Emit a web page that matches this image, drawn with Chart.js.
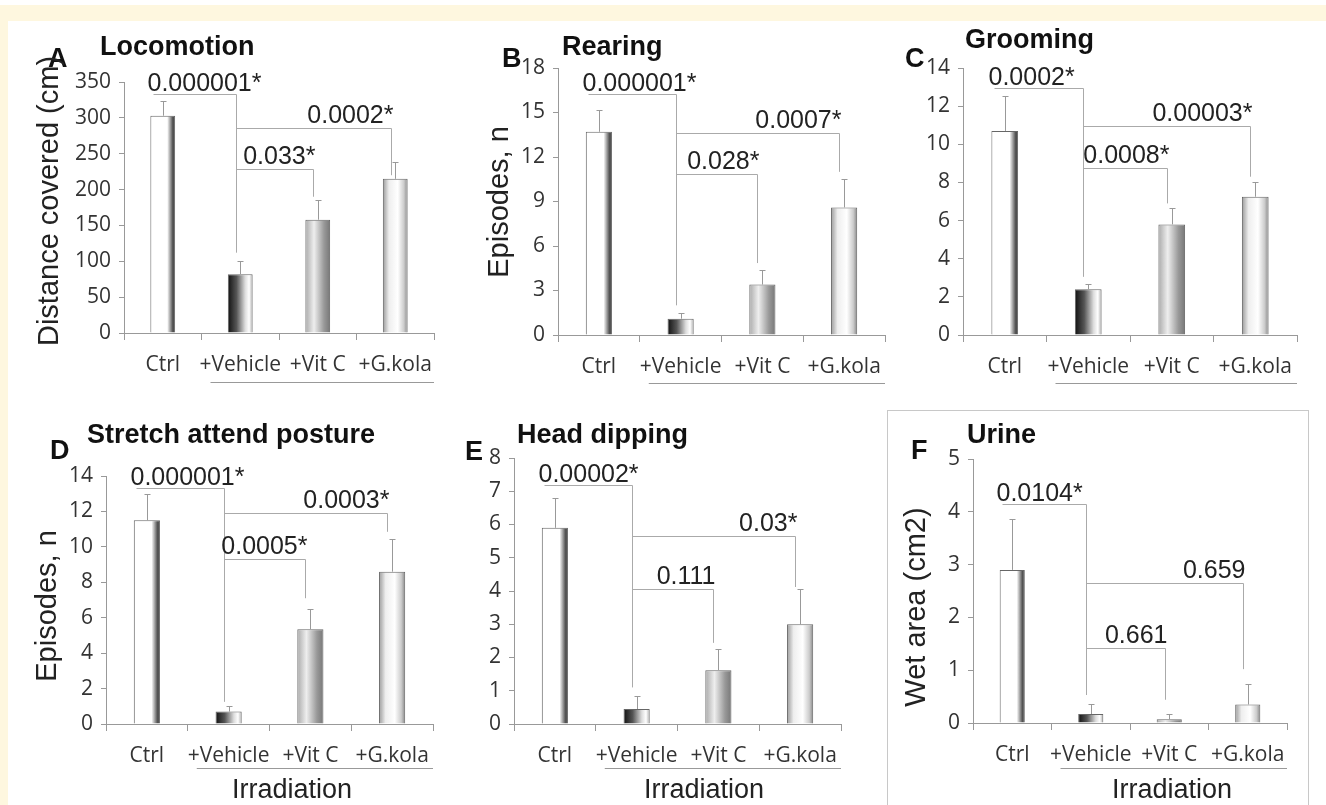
<!DOCTYPE html>
<html>
<head>
<meta charset="utf-8">
<script src="https://cdn.jsdelivr.net/npm/chart.js@4.4.1/dist/chart.umd.min.js"></script>
<style>
body { margin: 0; width: 1326px; height: 805px; background: #fff; position: relative; overflow: hidden; }
.cream { position: absolute; background: #fef7df; }
canvas { position: absolute; }
#boxF { position: absolute; left: 887px; top: 410px; width: 420px; height: 400px; border: 1px solid #c8c8c8; border-bottom: none; }
</style>
</head>
<body>
<div class="cream" style="left:0;top:5px;width:1326px;height:16px"></div>
<div class="cream" style="left:0;top:5px;width:8px;height:800px"></div>
<div id="boxF"></div>
<script>
const categories = ['Ctrl', '+Vehicle', '+Vit C', '+G.kola'];

// means and top of error bar (mean + SD)
const locomotion = [303, 82, 158, 215];
const locomotionErr = [324, 100, 186, 239];
const rearing = [13.7, 1.1, 3.4, 8.6];
const rearingErr = [15.2, 1.5, 4.4, 10.5];
const grooming = [10.7, 2.4, 5.8, 7.25];
const groomingErr = [12.55, 2.65, 6.65, 8.0];
const stretch = [11.5, 0.7, 5.35, 8.6];
const stretchErr = [13.0, 1.0, 6.5, 10.45];
const headDip = [5.9, 0.45, 1.62, 3.0];
const headDipErr = [6.8, 0.85, 2.25, 4.05];
const urine = [2.9, 0.17, 0.07, 0.35];
const urineErr = [3.86, 0.36, 0.17, 0.73];

// p values and their brackets: [from category, to category, bracket level, end of drop]
const pLocomotion = ['0.000001*', '0.0002*', '0.033*'];
const brLocomotion = [[0, 1, 333, 112], [1, 3, 286, 220], [1, 2, 229, 190]];
const pRearing = ['0.000001*', '0.0007*', '0.028*'];
const brRearing = [[0, 1, 16.25, 2.0], [1, 3, 13.6, 11.0], [1, 2, 10.85, 4.85]];
const pGrooming = ['0.0002*', '0.00003*', '0.0008*'];
const brGrooming = [[0, 1, 12.95, 3.05], [1, 3, 10.95, 8.3], [1, 2, 8.75, 6.9]];
const pStretch = ['0.000001*', '0.0003*', '0.0005*'];
const brStretch = [[0, 1, 13.3, 1.25], [1, 3, 11.9, 10.85], [1, 2, 9.3, 7.1]];
const pHeadDip = ['0.00002*', '0.03*', '0.111'];
const brHeadDip = [[0, 1, 7.2, 1.1], [1, 3, 5.65, 4.12], [1, 2, 4.06, 2.44]];
const pUrine = ['0.0104*', '0.659', '0.661'];
const brUrine = [[0, 1, 4.15, 0.53], [1, 3, 2.65, 1.02], [1, 2, 1.42, 0.44]];

// bar shading, one gradient per group
const barStops = [
    [[0, '#ffffff'], [0.68, '#ffffff'], [0.9, '#555555'], [1, '#444444']],
    [[0, '#111111'], [0.35, '#555555'], [0.7, '#dddddd'], [0.86, '#ffffff'], [1, '#aaaaaa']],
    [[0, '#aaaaaa'], [0.35, '#eeeeee'], [0.75, '#999999'], [1, '#777777']],
    [[0, '#999999'], [0.25, '#eeeeee'], [0.6, '#ffffff'], [0.85, '#cccccc'], [1, '#888888']]
];
const barPct = 0.32;

const panels = [
    { letter: 'A', title: 'Locomotion', yTitle: 'Distance covered (cm)', values: locomotion, err: locomotionErr, max: 350, step: 50, p: pLocomotion, br: brLocomotion,
      box: [8, 21, 470, 379], area: [124, 82, 434, 333], letterAt: [48, 67], titleAt: [100, 55], yTitleAt: [50, 201], lineGap: 49 },
    { letter: 'B', title: 'Rearing', yTitle: 'Episodes, n', values: rearing, err: rearingErr, max: 18, step: 3, p: pRearing, br: brRearing,
      box: [440, 21, 460, 379], area: [558, 68, 885, 335], letterAt: [502, 67], titleAt: [562, 55], yTitleAt: [500, 202], lineGap: 48 },
    { letter: 'C', title: 'Grooming', values: grooming, err: groomingErr, max: 14, step: 2, p: pGrooming, br: brGrooming,
      box: [880, 21, 446, 379], area: [963, 68, 1297, 335], letterAt: [905, 67], titleAt: [965, 48], lineGap: 48 },
    { letter: 'D', title: 'Stretch attend posture', yTitle: 'Episodes, n', values: stretch, err: stretchErr, max: 14, step: 2, p: pStretch, br: brStretch,
      box: [8, 400, 470, 405], area: [106, 476, 433, 724], letterAt: [50, 459], titleAt: [87, 443], yTitleAt: [48, 606], lineGap: 44, irrAt: [292, 798] },
    { letter: 'E', title: 'Head dipping', values: headDip, err: headDipErr, max: 8, step: 1, p: pHeadDip, br: brHeadDip,
      box: [440, 400, 440, 405], area: [514, 458, 841, 724], letterAt: [465, 460], titleAt: [517, 443], lineGap: 44, irrAt: [704, 798] },
    { letter: 'F', title: 'Urine', yTitle: 'Wet area (cm2)', values: urine, err: urineErr, max: 5, step: 1, p: pUrine, br: brUrine,
      box: [888, 411, 419, 394], area: [973, 459, 1287, 723], letterAt: [911, 459], titleAt: [967, 443], yTitleAt: [917, 607], lineGap: 45, irrAt: [1172, 798] }
];

const tickFont = { family: 'Open Sans', size: 21 };

function barFill(c) {
    const chart = c.chart;
    if (!chart.chartArea) return '#cccccc';
    const x = chart.scales.x;
    const cx = x.getPixelForValue(c.dataIndex);
    const w = x.width / categories.length * barPct;
    const g = chart.ctx.createLinearGradient(cx - w / 2, 0, cx + w / 2, 0);
    barStops[c.dataIndex].forEach(s => g.addColorStop(s[0], s[1]));
    return g;
}

const px = v => Math.round(v) + 0.5;

const annotate = {
    id: 'annotate',
    afterDatasetsDraw(chart, args, opts) {
        const p = opts.panel;
        const { ctx } = chart;
        const x = chart.scales.x, y = chart.scales.y;
        const ox = p.box[0], oy = p.box[1];
        ctx.save();

        // error bars (upper only)
        ctx.strokeStyle = '#999';
        ctx.lineWidth = 1;
        p.values.forEach((v, i) => {
            const cx = px(x.getPixelForValue(i));
            const y1 = y.getPixelForValue(v);
            const y2 = px(y.getPixelForValue(p.err[i]));
            ctx.beginPath();
            ctx.moveTo(cx, y1); ctx.lineTo(cx, y2);
            ctx.moveTo(cx - 3, y2); ctx.lineTo(cx + 3, y2);
            ctx.stroke();
        });

        // brackets with p values
        ctx.strokeStyle = '#aaa';
        ctx.fillStyle = '#222';
        ctx.font = '25px "Liberation Sans", Arial, sans-serif';
        ctx.textBaseline = 'alphabetic';
        p.br.forEach((b, k) => {
            const x0 = px(x.getPixelForValue(b[0] === 0 ? -0.13 : b[0] - 0.06));
            const x1 = px(x.getPixelForValue(b[1] - 0.06));
            const yl = px(y.getPixelForValue(b[2]));
            const yd = y.getPixelForValue(b[3]);
            ctx.beginPath();
            ctx.moveTo(x0, yl); ctx.lineTo(x1, yl); ctx.lineTo(x1, yd);
            ctx.stroke();
            if (b[0] === 0) {
                ctx.textAlign = 'left';
                ctx.fillText(p.p[k], x0 - 6, yl - 4);
            } else {
                ctx.textAlign = 'right';
                ctx.fillText(p.p[k], x1 + 2, yl - 6);
            }
        });

        // group underline
        ctx.strokeStyle = '#999';
        const ul = px(y.bottom + p.lineGap);
        ctx.beginPath();
        ctx.moveTo(x.getPixelForValue(0.5) + 9, ul);
        ctx.lineTo(x.right, ul);
        ctx.stroke();

        ctx.fillStyle = '#111';
        ctx.textAlign = 'left';
        ctx.font = 'bold 27px "Liberation Sans", Arial, sans-serif';
        ctx.fillText(p.letter, p.letterAt[0] - ox, p.letterAt[1] - oy);
        ctx.fillText(p.title, p.titleAt[0] - ox, p.titleAt[1] - oy);

        ctx.fillStyle = '#222';
        if (p.irrAt) {
            ctx.textAlign = 'center';
            ctx.font = '27px "Liberation Sans", Arial, sans-serif';
            ctx.fillText('Irradiation', p.irrAt[0] - ox, p.irrAt[1] - oy);
        }
        if (p.yTitle) {
            ctx.translate(p.yTitleAt[0] - ox, p.yTitleAt[1] - oy);
            ctx.rotate(-Math.PI / 2);
            ctx.textAlign = 'center';
            ctx.textBaseline = 'middle';
            ctx.font = '29px "Liberation Sans", Arial, sans-serif';
            ctx.fillText(p.yTitle, 0, 0);
        }
        ctx.restore();
    }
};

panels.forEach(p => {
    const cv = document.createElement('canvas');
    cv.width = p.box[2];
    cv.height = p.box[3];
    cv.style.left = p.box[0] + 'px';
    cv.style.top = p.box[1] + 'px';
    document.body.appendChild(cv);

    new Chart(cv, {
        type: 'bar',
        data: {
            labels: categories,
            datasets: [{
                data: p.values,
                backgroundColor: c => barFill(c),
                borderColor: '#666',
                borderWidth: 1,
                barPercentage: barPct,
                categoryPercentage: 1
            }]
        },
        options: {
            responsive: false,
            animation: false,
            layout: { padding: { left: 0, top: p.area[1] - p.box[1], right: p.box[0] + p.box[2] - p.area[2], bottom: 0 } },
            plugins: {
                legend: { display: false },
                tooltip: { enabled: false },
                annotate: { panel: p }
            },
            scales: {
                x: {
                    grid: { drawOnChartArea: false, tickLength: 7, color: '#999', offset: true },
                    border: { color: '#999' },
                    ticks: { font: tickFont, color: '#333', padding: 12, maxRotation: 0, autoSkip: false },
                    afterFit: s => { s.height = p.box[1] + p.box[3] - p.area[3]; }
                },
                y: {
                    min: 0,
                    max: p.max,
                    ticks: { stepSize: p.step, font: tickFont, color: '#333', padding: 8 },
                    grid: { drawOnChartArea: false, tickLength: 5, color: '#999' },
                    border: { color: '#999' },
                    afterFit: s => { s.width = p.area[0] - p.box[0]; }
                }
            }
        },
        plugins: [annotate]
    });
});
</script>
</body>
</html>
